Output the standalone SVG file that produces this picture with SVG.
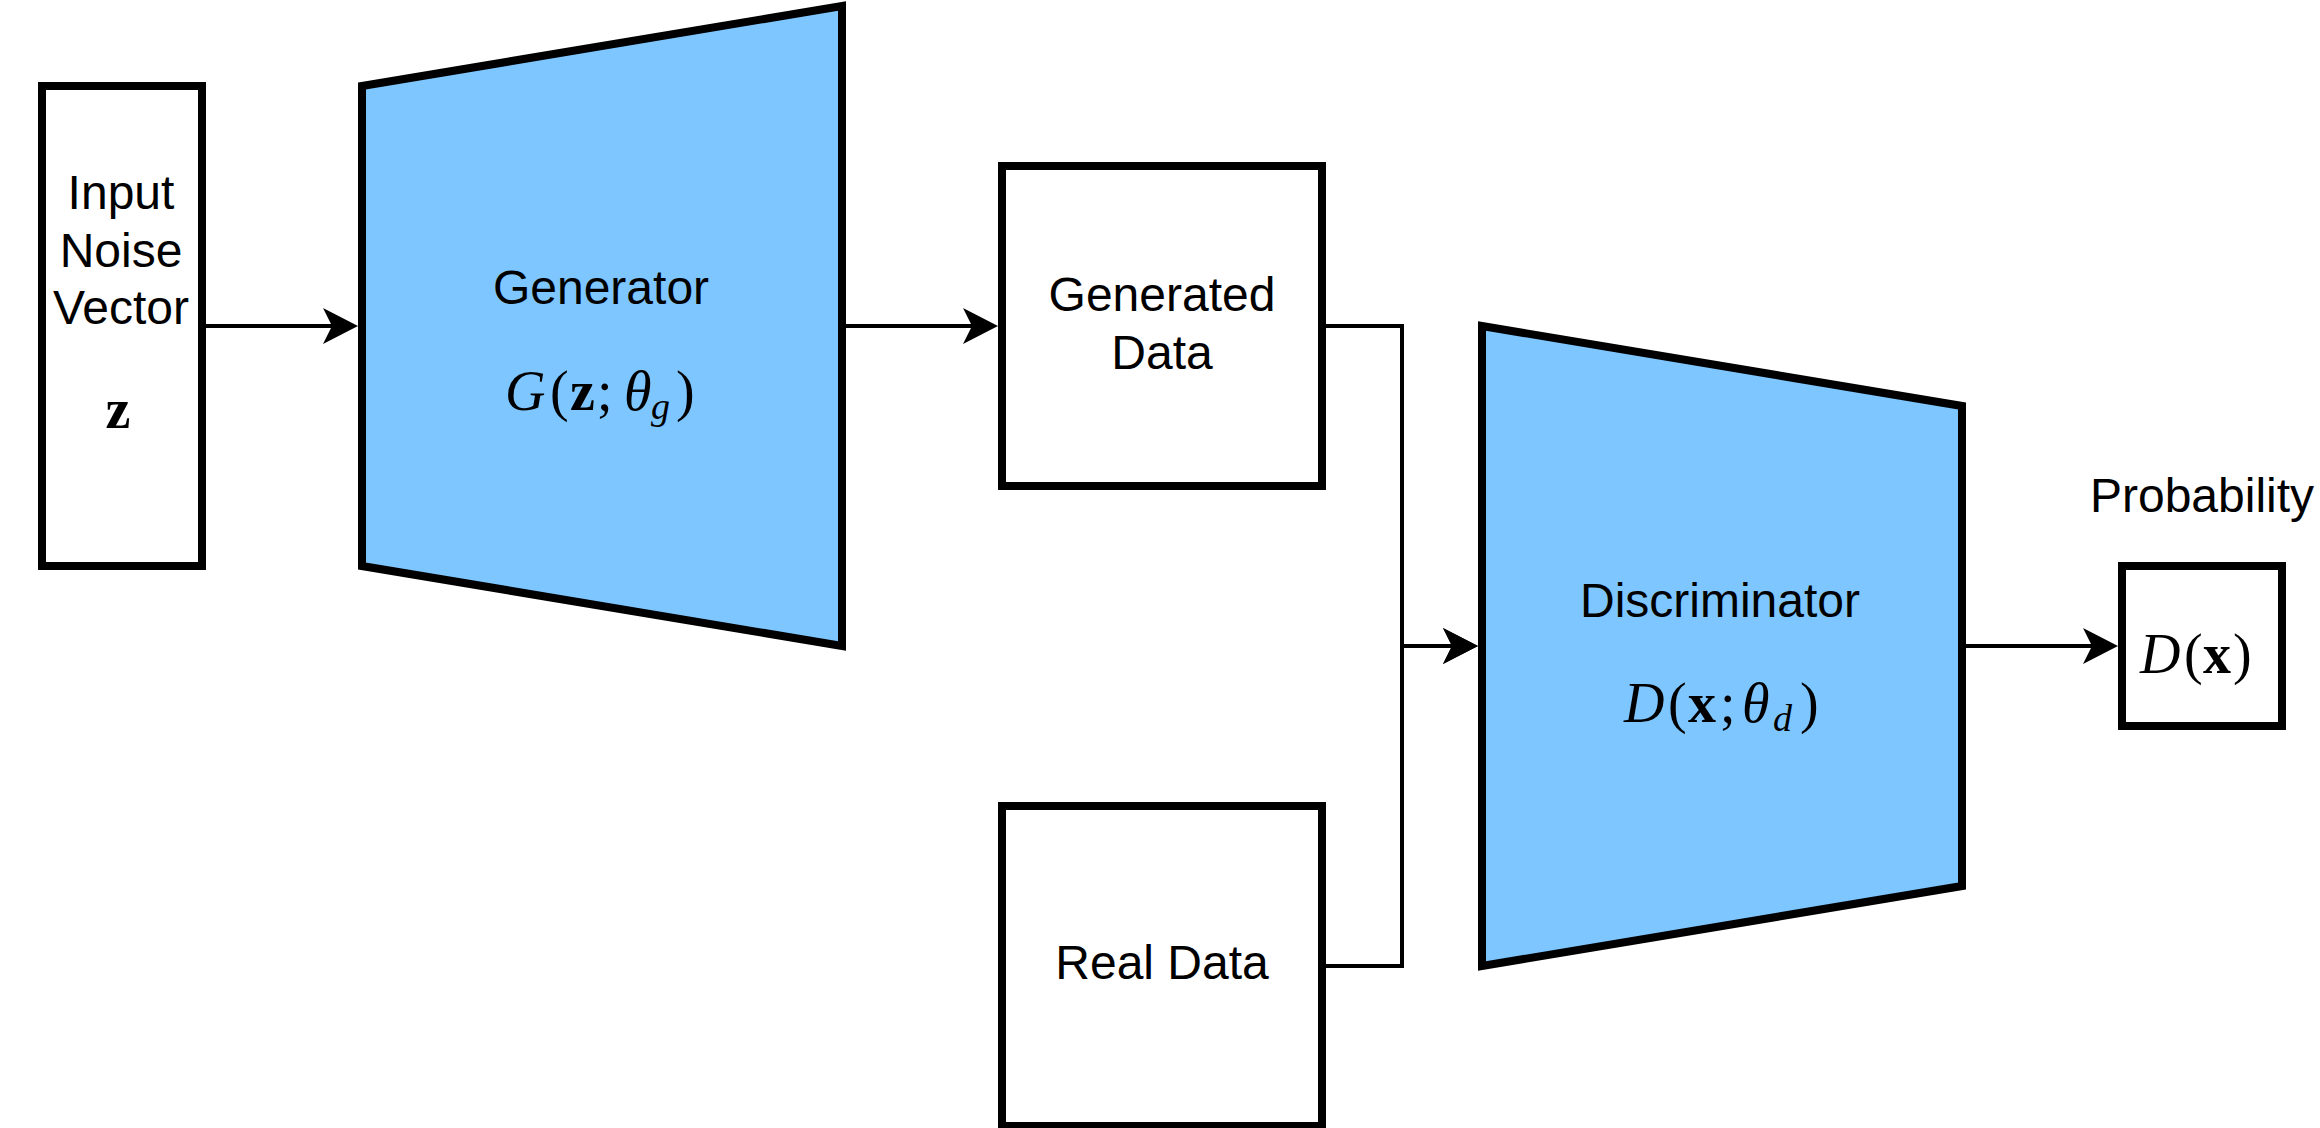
<svg xmlns="http://www.w3.org/2000/svg" width="2320" height="1128" viewBox="0 0 2320 1128">
<style>
.box{fill:#ffffff;stroke:#000000;stroke-width:8}
.trap{fill:#7EC6FF;stroke:#000000;stroke-width:8;stroke-linejoin:miter}
.lbl{font-family:"Liberation Sans",Arial,sans-serif;font-size:48px;fill:#000000;text-anchor:middle}
.math{font-family:"Liberation Serif","Times New Roman",serif;font-size:56px;fill:#000000}
.it{font-style:italic}
.bf{font-weight:bold}
.sub{font-size:38px;font-style:italic}
.edge{fill:none;stroke:#000000;stroke-width:4}
</style>
<defs>
<marker id="arrow" markerUnits="userSpaceOnUse" markerWidth="36" markerHeight="36" viewBox="0 0 36 36" refX="9" refY="18" orient="auto">
<path d="M0,0 L35,18 L0,36 L9,18 Z" fill="#000000"/>
</marker>
</defs>
<rect width="2320" height="1128" fill="#ffffff"/>
<g id="connectors">
<line class="edge" x1="206" y1="326" x2="332" y2="326" marker-end="url(#arrow)"/>
<line class="edge" x1="846" y1="326" x2="972" y2="326" marker-end="url(#arrow)"/>
<path class="edge" d="M1326,326 H1402 V646 H1452" marker-end="url(#arrow)"/>
<path class="edge" d="M1326,966 H1402 V646 H1452" marker-end="url(#arrow)"/>
<line class="edge" x1="1966" y1="646" x2="2092" y2="646" marker-end="url(#arrow)"/>
</g>
<g id="input-noise">
<rect class="box" x="42" y="86" width="160" height="480"/>
<text class="lbl" x="121" y="209">Input</text>
<text class="lbl" x="121" y="267">Noise</text>
<text class="lbl" x="121" y="324">Vector</text>
<text class="math bf" x="118" y="428" text-anchor="middle" font-size="50">z</text>
</g>
<g id="generator">
<polygon class="trap" points="362,86 842,6 842,646 362,566"/>
<text class="lbl" x="601" y="304">Generator</text>
<text class="math" y="410"><tspan class="it" x="505">G</tspan><tspan x="550">(</tspan><tspan class="bf" x="570">z</tspan><tspan x="597">;</tspan><tspan class="it" x="624">θ</tspan><tspan class="sub" x="651" y="419">g</tspan><tspan x="676" y="410">)</tspan></text>
</g>
<g id="generated-data">
<rect class="box" x="1002" y="166" width="320" height="320"/>
<text class="lbl" x="1162" y="311">Generated</text>
<text class="lbl" x="1162" y="369">Data</text>
</g>
<g id="real-data">
<rect class="box" x="1002" y="806" width="320" height="320"/>
<text class="lbl" x="1162" y="979">Real Data</text>
</g>
<g id="discriminator">
<polygon class="trap" points="1482,326 1962,406 1962,886 1482,966"/>
<text class="lbl" x="1720" y="617">Discriminator</text>
<text class="math" y="722"><tspan class="it" x="1624">D</tspan><tspan x="1668">(</tspan><tspan class="bf" x="1688">x</tspan><tspan x="1720">;</tspan><tspan class="it" x="1742">θ</tspan><tspan class="sub" x="1773" y="731">d</tspan><tspan x="1800" y="722">)</tspan></text>
</g>
<g id="probability">
<text class="lbl" x="2202" y="512">Probability</text>
<rect class="box" x="2122" y="566" width="160" height="160"/>
<text class="math" y="673" font-size="52"><tspan class="it" x="2140">D</tspan><tspan x="2184">(</tspan><tspan class="bf" x="2203">x</tspan><tspan x="2233">)</tspan></text>
</g>
</svg>
